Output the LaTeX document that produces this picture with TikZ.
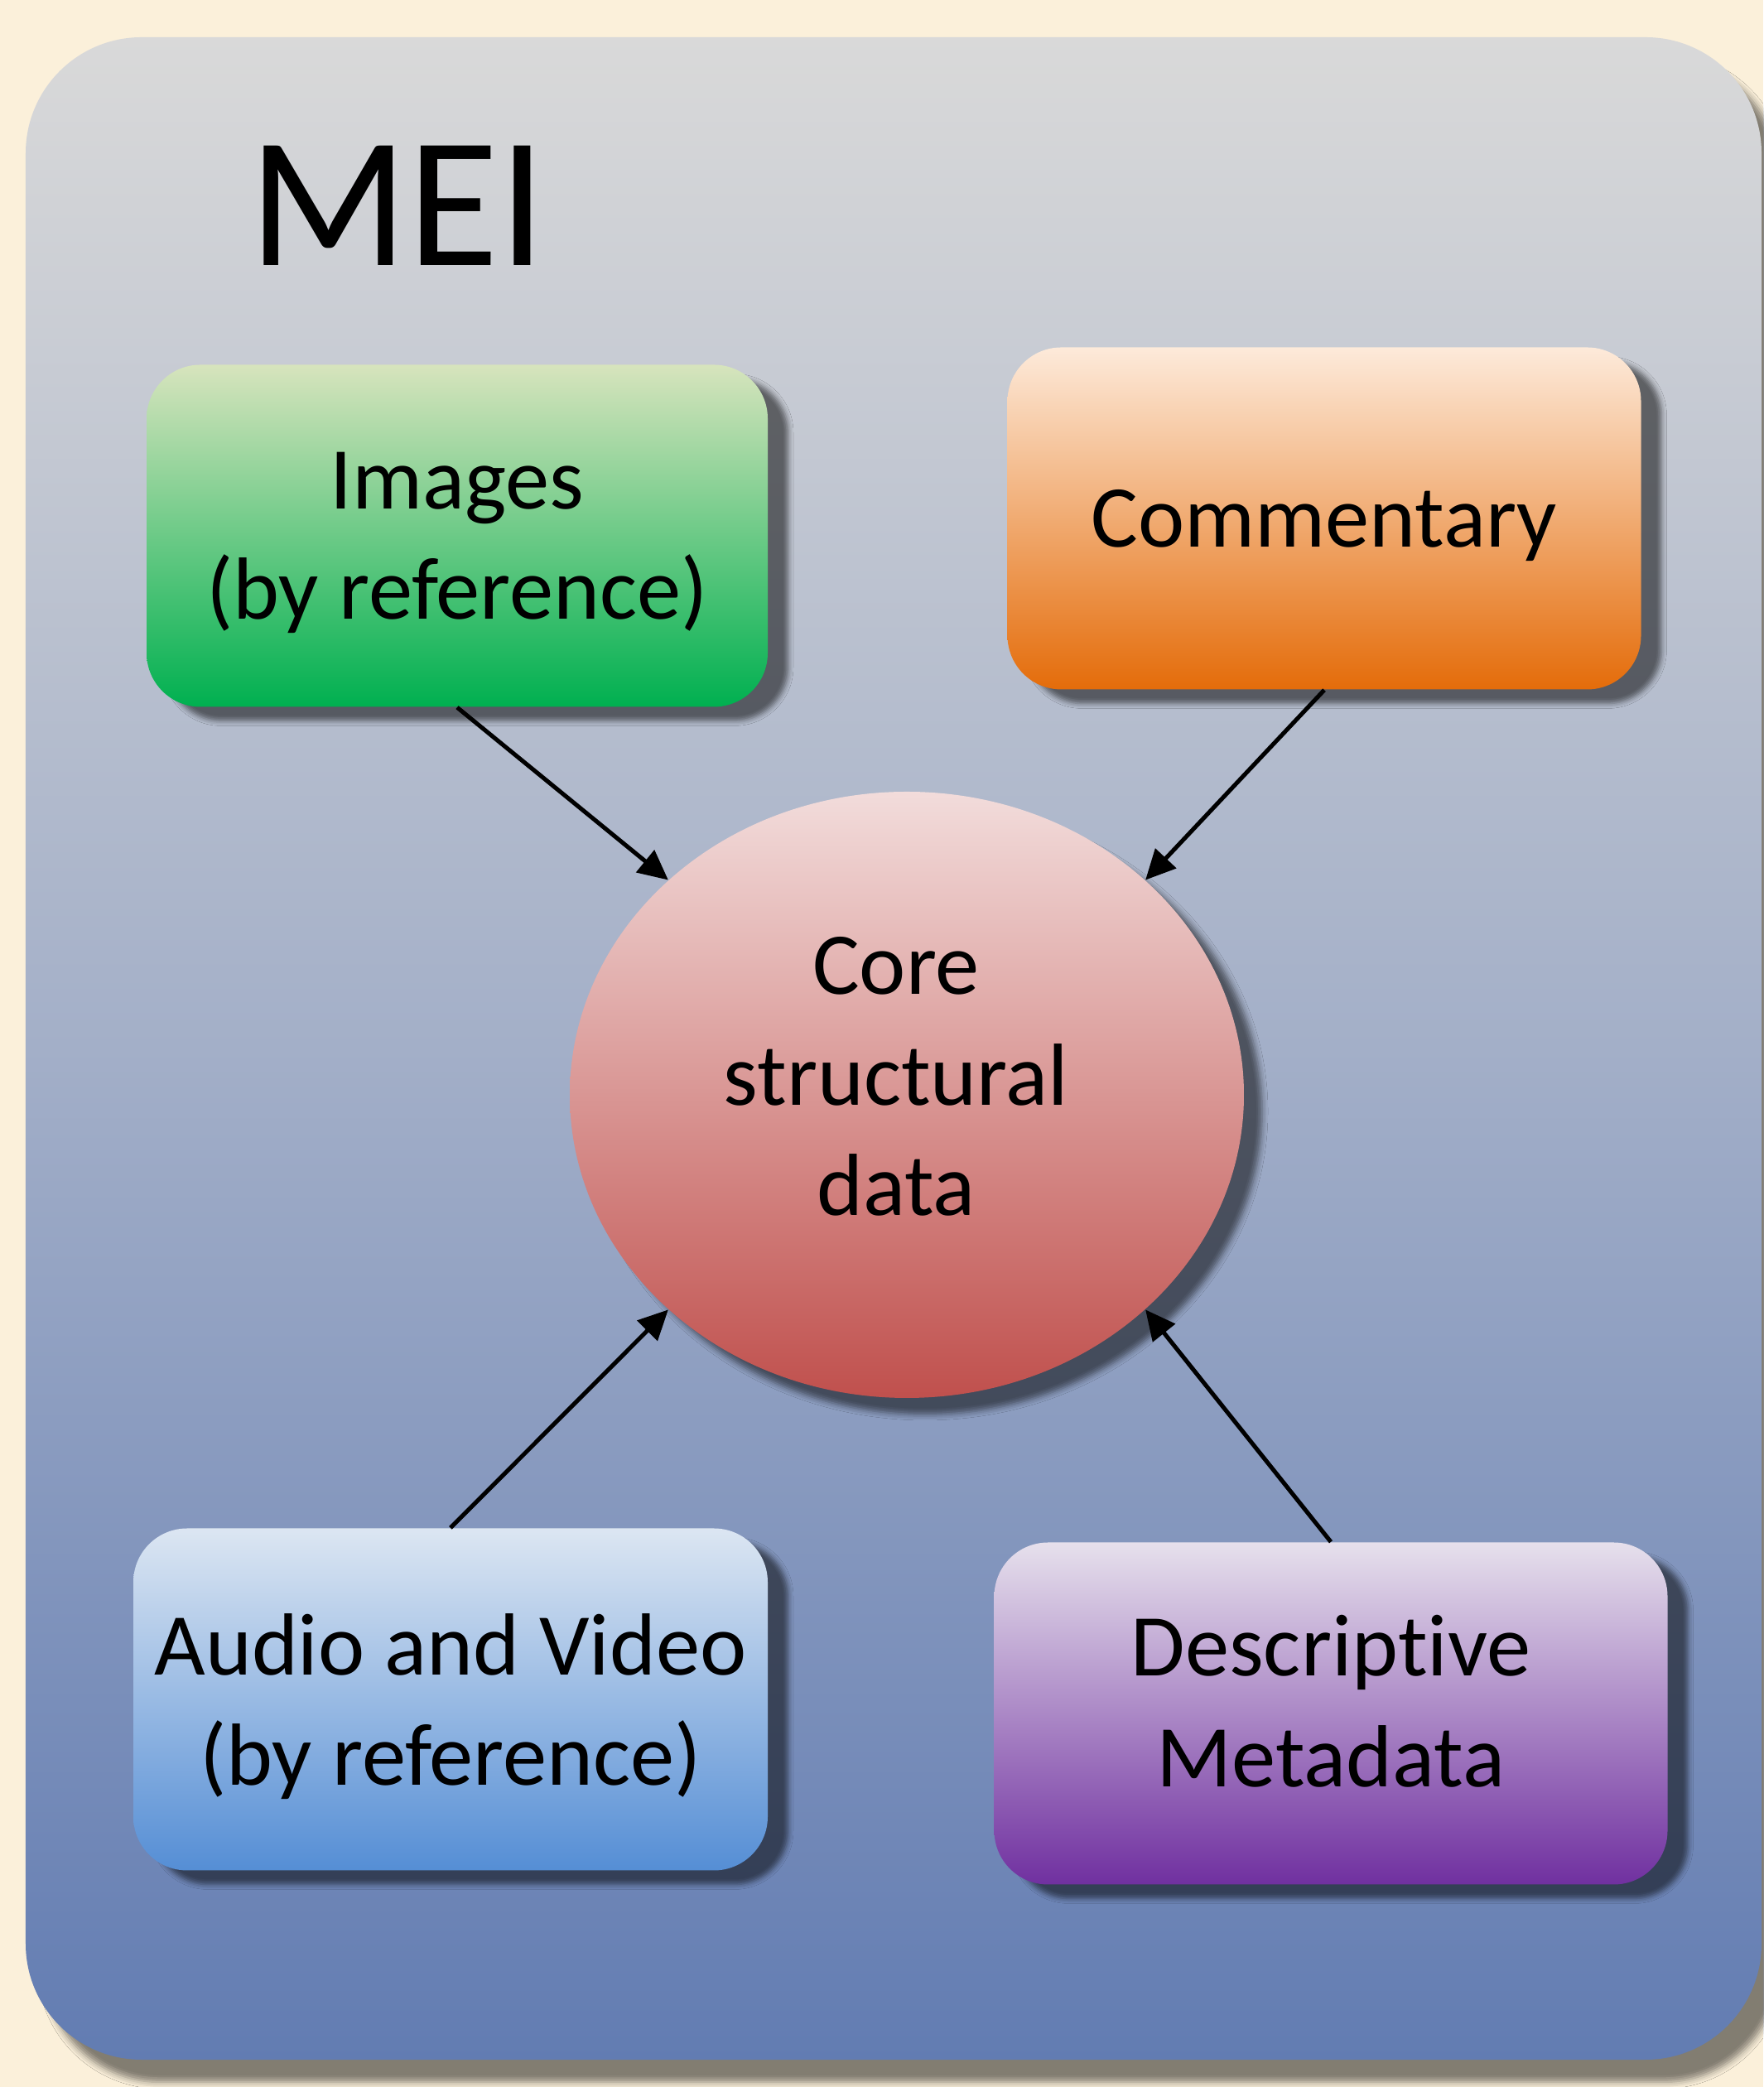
\documentclass[tikz,border=0pt]{standalone}
\usepackage{fontspec}
\setmainfont{Carlito}[Ligatures=NoCommon]
\usetikzlibrary{arrows.meta}
\usetikzlibrary{shapes.geometric}
\usetikzlibrary{shadows.blur}

\definecolor{cream}{RGB}{251,240,218}
\definecolor{panelTop}{RGB}{217,217,217}
\definecolor{panelMid}{RGB}{163,175,200}
\definecolor{panelBot}{RGB}{98,124,178}
\definecolor{imgTop}{RGB}{215,228,189}
\definecolor{imgBot}{RGB}{0,176,80}
\definecolor{comTop}{RGB}{253,234,218}
\definecolor{comBot}{RGB}{228,108,10}
\definecolor{audTop}{RGB}{220,230,242}
\definecolor{audBot}{RGB}{85,142,213}
\definecolor{descTop}{RGB}{230,224,236}
\definecolor{descBot}{RGB}{112,48,160}
\definecolor{coreTop}{RGB}{242,220,219}
\definecolor{coreBot}{RGB}{192,80,77}

\newcommand{\lft}{\hspace*{-0.26cm}}

\tikzset{
  panel/.style={rounded corners=1.4cm, minimum width=20.96cm, minimum height=24.42cm,
    top color=panelTop, bottom color=panelBot, middle color=panelMid,
    blur shadow={shadow xshift=0.22cm, shadow yshift=-0.27cm, shadow blur radius=0.08cm, shadow opacity=48}},
  topic/.style={rounded corners=0.65cm, minimum height=4.13cm, align=center,
    font=\fontsize{30.3}{38}\selectfont, text depth=-0.05cm,
    blur shadow={shadow xshift=0.25cm, shadow yshift=-0.17cm, shadow blur radius=0.06cm, shadow opacity=52}},
  link/.style={line width=1.45pt, -{Triangle[length=0.36cm,width=0.34cm]}},
}

\begin{document}
\begin{tikzpicture}
  \useasboundingbox (0,0) rectangle (21.29,25.20);
  \fill[cream] (0,0) rectangle (21.29,25.20);

  % outer frame
  \node[panel] (mei) at (10.79,12.54) {};
  \node[font=\fontsize{64}{70}\selectfont, anchor=base] (title) at (4.80,21.99) {MEI};

  % the five parts
  \node[topic, minimum width=7.50cm, top color=imgTop, bottom color=imgBot] (img) at (5.52,18.73) {Images\\(by reference)};
  \node[topic, minimum width=7.65cm, top color=comTop, bottom color=comBot] (com) at (15.99,18.94) {Commentary};
  \node[ellipse, minimum width=8.14cm, minimum height=7.32cm, align=center, text depth=0.45cm,
    font=\fontsize{30.3}{38}\selectfont, top color=coreTop, bottom color=coreBot,
    blur shadow={shadow xshift=0.22cm, shadow yshift=-0.2cm, shadow blur radius=0.07cm, shadow opacity=52}]
    (core) at (10.95,11.98) {\lft Core\\\lft structural\\\lft data};
  \node[topic, minimum width=7.66cm, top color=audTop, bottom color=audBot] (aud) at (5.44,4.68) {Audio and Video\\(by reference)};
  \node[topic, minimum width=8.13cm, top color=descTop, bottom color=descBot, text depth=0.3cm] (desc) at (16.07,4.51) {Descriptive\\Metadata};

  \draw[link] (img.south) -- (core.138);
  \draw[link] (com.south) -- (core.42);
  \draw[link] (aud.north) -- (core.222);
  \draw[link] (desc.north) -- (core.318);
\end{tikzpicture}
\end{document}
